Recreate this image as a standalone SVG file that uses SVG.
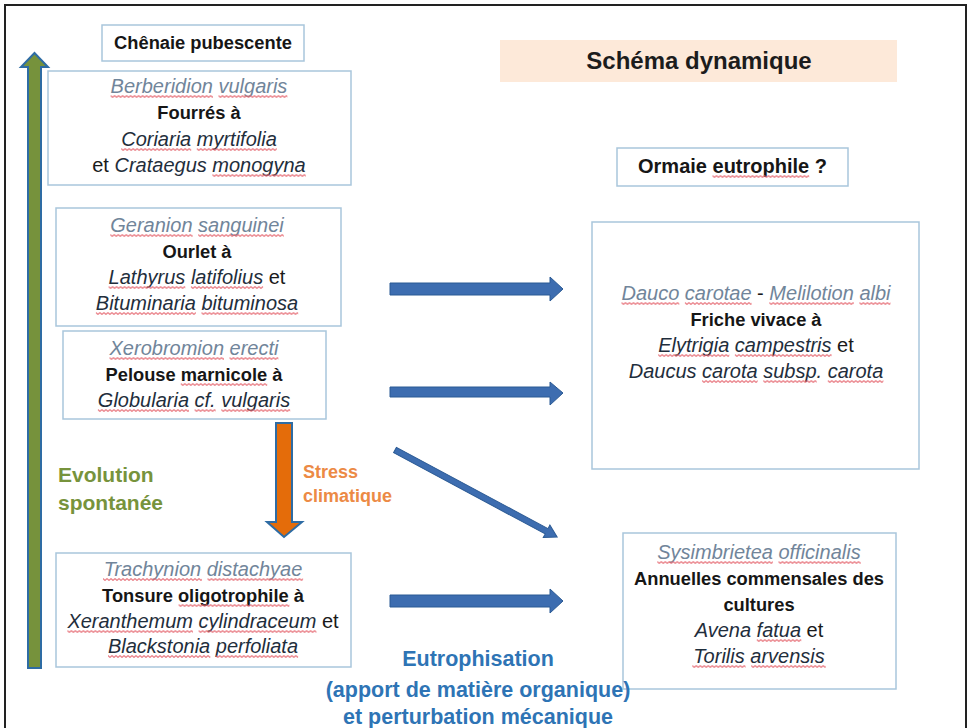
<svg xmlns="http://www.w3.org/2000/svg" width="972" height="728" viewBox="0 0 972 728">
<defs>
<pattern id="wave" patternUnits="userSpaceOnUse" width="4" height="3">
  <path d="M0,0.6 L2,2.4 L4,0.6" fill="none" stroke="#e5666f" stroke-width="1.3"/>
</pattern>
</defs>
<style>
text{font-family:"Liberation Sans",Arial,sans-serif;text-anchor:middle}
.box{fill:#fff;stroke:#a9c6dc;stroke-width:1.5}
.b{font-weight:bold;font-size:18.3px;fill:#161616}
.al{font-style:italic;font-size:20px;fill:#71859a}
.sp{font-style:italic;font-size:20px;fill:#1f2e3c}
.r{font-style:normal;font-size:20px;fill:#1a1a1a}
.w{fill:url(#wave);opacity:0.8}
.barrow{fill:#3d6db0;stroke:#2b5a94;stroke-width:1}
</style>
<rect x="5" y="5" width="961" height="760" fill="#fff" stroke="#222" stroke-width="2"/>

<g id="connectors">
  <polygon id="evol" points="28,67 21,67 34.5,53 48,67 41,67 41,668 28,668" fill="#76923c" stroke="#2e6ca4" stroke-width="2"/>
  <polygon id="stress" points="276,423 292,423 292,522 302,522 284,537 267,522 276,522" fill="#e46c0a" stroke="#2e6ca4" stroke-width="2"/>
  <polygon class="barrow" points="390,283 550,283 550,277 563,289 550,301 550,295 390,295"/>
  <polygon class="barrow" points="390,387 550,387 550,382 563,393 550,405 550,397 390,397"/>
  <polygon class="barrow" transform="translate(395,450) rotate(28.2)" points="0,-3 172,-3 172,-7 184,0 172,7 172,3 0,3"/>
  <polygon class="barrow" points="390,595 550,595 550,589 563,601 550,613 550,607 390,607"/>
</g>

<g id="chenaie">
  <rect class="box" x="102" y="25" width="202" height="36"/>
  <text class="b" x="203" y="49">Chênaie pubescente</text>
</g>

<g id="schema">
  <rect x="500" y="40" width="397" height="42" fill="#fde9d9"/>
  <text x="699" y="69" font-weight="bold" font-size="24px" fill="#1c1c1c">Schéma dynamique</text>
</g>

<g id="berberidion">
  <rect class="box" x="48" y="71" width="303" height="114"/>
  <text class="al" x="199" y="93">Berberidion vulgaris</text>
  <text class="b" x="199" y="119">Fourrés à</text>
  <text class="sp" x="199" y="146">Coriaria myrtifolia</text>
  <text class="r" x="199" y="172">et <tspan class="sp">Crataegus monogyna</tspan></text>
  <rect class="w" transform="translate(110.6,95)" width="102.3" height="3"/>
  <rect class="w" transform="translate(218.5,95)" width="68.9" height="3"/>
  <rect class="w" transform="translate(121.2,148)" width="70" height="3"/>
  <rect class="w" transform="translate(196.8,148)" width="80" height="3"/>
  <rect class="w" transform="translate(212.4,174)" width="93.4" height="3"/>
</g>

<g id="ormaie">
  <rect class="box" x="617" y="148" width="231" height="38"/>
  <text class="b" x="732.5" y="173" style="font-size:20px">Ormaie eutrophile ?</text>
  <rect class="w" transform="translate(712.5,175)" width="96.7" height="3"/>
</g>

<g id="geranion">
  <rect class="box" x="56" y="208" width="285" height="118"/>
  <text class="al" x="197" y="232">Geranion sanguinei</text>
  <text class="b" x="197" y="258">Ourlet à</text>
  <text class="r" x="197" y="284"><tspan class="sp">Lathyrus latifolius</tspan> et</text>
  <text class="sp" x="197" y="310">Bituminaria bituminosa</text>
  <rect class="w" transform="translate(110.3,234)" width="82.3" height="3"/>
  <rect class="w" transform="translate(198.2,234)" width="85.6" height="3"/>
  <rect class="w" transform="translate(108.6,286)" width="76.7" height="3"/>
  <rect class="w" transform="translate(190.9,286)" width="72.2" height="3"/>
  <rect class="w" transform="translate(95.9,312)" width="100" height="3"/>
  <rect class="w" transform="translate(201.5,312)" width="96.7" height="3"/>
</g>

<g id="xerobromion">
  <rect class="box" x="63" y="331" width="263" height="88"/>
  <text class="al" x="194" y="355">Xerobromion erecti</text>
  <text class="b" x="194" y="381">Pelouse marnicole à</text>
  <text class="sp" x="194" y="407">Globularia cf. vulgaris</text>
  <rect class="w" transform="translate(109.5,357)" width="114.5" height="3"/>
  <rect class="w" transform="translate(229.5,357)" width="48.9" height="3"/>
  <rect class="w" transform="translate(180.8,383)" width="86.4" height="3"/>
  <rect class="w" transform="translate(97.9,409)" width="91.1" height="3"/>
  <rect class="w" transform="translate(194.6,409)" width="21.1" height="3"/>
  <rect class="w" transform="translate(221.3,409)" width="68.9" height="3"/>
</g>

<g id="dauco">
  <rect class="box" x="592" y="222" width="327" height="247"/>
  <text class="al" x="756" y="300">Dauco carotae<tspan class="r"> - </tspan>Melilotion albi</text>
  <text class="b" x="756" y="326">Friche vivace à</text>
  <text class="r" x="756" y="352"><tspan class="sp">Elytrigia campestris</tspan> et</text>
  <text class="sp" x="756" y="378">Daucus carota subsp. carota</text>
  <rect class="w" transform="translate(621.5,302)" width="57.8" height="3"/>
  <rect class="w" transform="translate(684.9,302)" width="66.7" height="3"/>
  <rect class="w" transform="translate(769.3,302)" width="84.5" height="3"/>
  <rect class="w" transform="translate(859.4,302)" width="31.1" height="3"/>
  <rect class="w" transform="translate(658.2,354)" width="71.1" height="3"/>
  <rect class="w" transform="translate(734.9,354)" width="96.7" height="3"/>
  <rect class="w" transform="translate(702.1,380)" width="55.6" height="3"/>
  <rect class="w" transform="translate(763.3,380)" width="53.4" height="3"/>
  <rect class="w" transform="translate(827.8,380)" width="55.6" height="3"/>
</g>

<g id="evolution-label">
  <text x="58" y="482" font-weight="bold" font-size="21px" fill="#77933c" style="text-anchor:start">Evolution</text>
  <text x="58" y="510" font-weight="bold" font-size="21px" fill="#77933c" style="text-anchor:start">spontanée</text>
</g>

<g id="stress-label">
  <text x="303" y="478" font-weight="bold" font-size="18px" fill="#ec8a45" style="text-anchor:start">Stress</text>
  <text x="303" y="502" font-weight="bold" font-size="18px" fill="#ec8a45" style="text-anchor:start">climatique</text>
</g>

<g id="trachynion">
  <rect class="box" x="56" y="553" width="295" height="114"/>
  <text class="al" x="203" y="576">Trachynion distachyae</text>
  <text class="b" x="203" y="602">Tonsure oligotrophile à</text>
  <text class="r" x="203" y="628"><tspan class="sp">Xeranthemum cylindraceum</tspan> et</text>
  <text class="sp" x="203" y="653">Blackstonia perfoliata</text>
  <rect class="w" transform="translate(103,578)" width="98.9" height="3"/>
  <rect class="w" transform="translate(207.5,578)" width="95.6" height="3"/>
  <rect class="w" transform="translate(178.6,604)" width="110.8" height="3"/>
  <rect class="w" transform="translate(67.4,630)" width="125.6" height="3"/>
  <rect class="w" transform="translate(198.6,630)" width="117.8" height="3"/>
  <rect class="w" transform="translate(108,655)" width="102.3" height="3"/>
  <rect class="w" transform="translate(215.8,655)" width="82.3" height="3"/>
</g>

<g id="sysimbrietea">
  <rect class="box" x="623" y="533" width="273" height="156"/>
  <text class="al" x="759" y="559">Sysimbrietea officinalis</text>
  <text class="b" x="759" y="585">Annuelles commensales des</text>
  <text class="b" x="759" y="611">cultures</text>
  <text class="r" x="759" y="637"><tspan class="sp">Avena fatua</tspan> et</text>
  <text class="sp" x="759" y="663">Torilis arvensis</text>
  <rect class="w" transform="translate(657.3,561)" width="115.6" height="3"/>
  <rect class="w" transform="translate(778.5,561)" width="82.2" height="3"/>
  <rect class="w" transform="translate(756.8,639)" width="44.5" height="3"/>
  <rect class="w" transform="translate(692.3,665)" width="53.3" height="3"/>
  <rect class="w" transform="translate(751.2,665)" width="74.5" height="3"/>
</g>

<g id="eutrophisation-label" font-weight="bold" font-size="21.5px" fill="#2e74b5">
  <text x="478" y="666">Eutrophisation</text>
  <text x="478" y="697">(apport de matière organique)</text>
  <text x="478" y="724">et perturbation mécanique</text>
</g>
</svg>
